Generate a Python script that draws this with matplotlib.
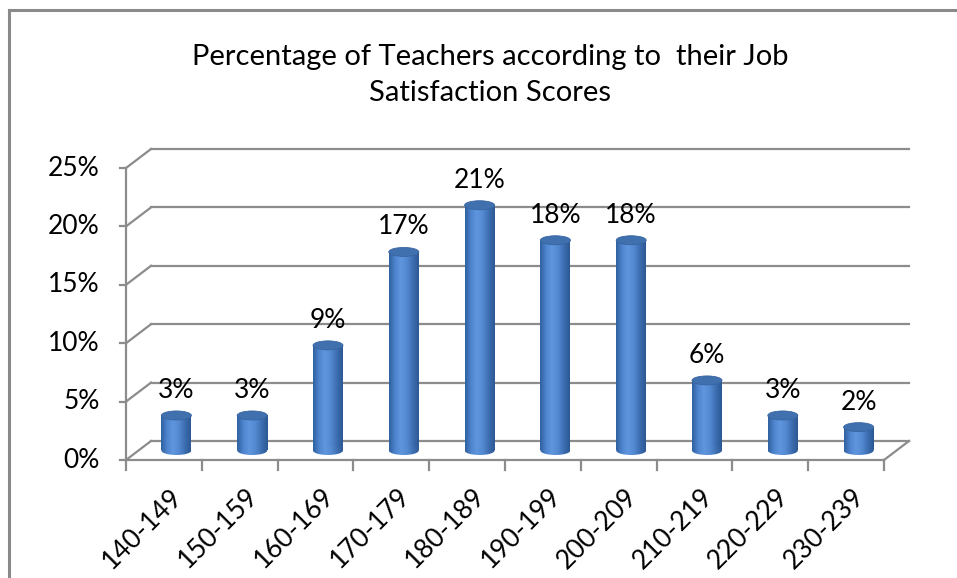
import matplotlib.pyplot as plt
import numpy as np
from matplotlib.patches import Ellipse, Rectangle
from matplotlib.colors import LinearSegmentedColormap

plt.rcParams['font.family'] = ['Lato', 'DejaVu Sans']

categories = ["140-149", "150-159", "160-169", "170-179", "180-189",
              "190-199", "200-209", "210-219", "220-229", "230-239"]
values = [3, 3, 9, 17, 21, 18, 18, 6, 3, 2]
yticks = [0, 5, 10, 15, 20, 25]
title = "Percentage of Teachers according to  their Job\nSatisfaction Scores"

W, H = 957, 578
fig = plt.figure(figsize=(W / 100, H / 100), dpi=100)

# axes: front plane x from -0.5 (px 126) to 9.5 (px 884), y 0 at px 460, 25% at px 168
px_cat = (884 - 126) / 10.0
px_pct = (460 - 168) / 25.0
dx = 25 / px_cat          # depth offset in category units
dy = 19 / px_pct          # depth offset in percent units
x0, x1 = -0.5, 9.5 + dx
y0, y1 = 0, 25 + dy
left = 126 / W
bottom = (H - 460) / H
ax = fig.add_axes([left, bottom, (x1 - x0) * px_cat / W, (y1 - y0) * px_pct / H])
ax.set_xlim(x0, x1)
ax.set_ylim(y0, y1)
ax.axis('off')

fs = 19
grid_c = '#8c8c8c'
lw = 1.6
# back wall gridlines and left wall diagonals
for t in yticks:
    ax.plot([-0.5 + dx, 9.5 + dx], [t + dy, t + dy], color=grid_c, lw=lw, clip_on=False, zorder=1)
    ax.plot([-0.5, -0.5 + dx], [t, t + dy], color=grid_c, lw=lw, clip_on=False, zorder=1)
    ax.plot([-0.5 - 0.08, -0.5], [t, t], color=grid_c, lw=lw, clip_on=False, zorder=1)
    ax.annotate(f"{t}%", (-0.5, t), xytext=(-19, 0), textcoords='offset points',
                ha='right', va='center', fontsize=fs, color='black')
# front left axis and floor
ax.plot([-0.5, -0.5], [0, 25], color=grid_c, lw=lw, clip_on=False, zorder=1)
ax.plot([-0.5, 9.5], [0, 0], color=grid_c, lw=lw, clip_on=False, zorder=1)
ax.plot([9.5, 9.5 + dx], [0, dy], color=grid_c, lw=lw, clip_on=False, zorder=1)
for k in range(len(categories) + 1):
    ax.plot([k - 0.5, k - 0.5], [0, -0.85], color=grid_c, lw=lw, clip_on=False, zorder=1)

# cylinders at mid depth
bw = 30 / px_cat
eh = 9 / px_pct
cmap = LinearSegmentedColormap.from_list('cyl', ['#30609f', '#4e85ce', '#6096de', '#5389d1', '#3d6eb1', '#2d5893'])
g = np.linspace(0, 1, 64).reshape(1, -1)
for i, v in enumerate(values):
    xc = i + dx / 2
    yb = dy / 2
    yt = v + dy / 2
    ext = (xc - bw / 2, xc + bw / 2, yb - eh / 2, yt)
    body = Rectangle((xc - bw / 2, yb), bw, v, facecolor='none', edgecolor='none')
    base = Ellipse((xc, yb), bw, eh, facecolor='none', edgecolor='none')
    ax.add_patch(body)
    ax.add_patch(base)
    for clip in (body, base):
        im = ax.imshow(g, extent=ext, cmap=cmap, aspect='auto', zorder=3, interpolation='bilinear')
        im.set_clip_path(clip)
    top = Ellipse((xc, yt), bw, eh, facecolor='#4070ae', edgecolor='#3865a1', lw=0.6, zorder=4)
    ax.add_patch(top)
    ax.annotate(f"{v}%", (xc, yt), xytext=(0, 9), textcoords='offset points',
                ha='center', va='bottom', fontsize=fs, color='black')

ax.set_xlim(x0, x1)
ax.set_ylim(y0, y1)

# category labels
for i, c in enumerate(categories):
    ax.annotate(c, (i, 0), xytext=(4, -17), textcoords='offset points', rotation=45,
                rotation_mode='anchor', ha='right', va='top', fontsize=fs, color='black')

fig.text(490 / W, 1 - 75 / H, title, ha='center', va='center', fontsize=21,
         linespacing=1.45, color='black')

# chart frame (partial, as in the reference)
fig.add_artist(plt.Line2D([8.5 / W, 8.5 / W], [0, 1 - 9.5 / H], color='#8a8a8a', lw=2.2,
                          transform=fig.transFigure))
fig.add_artist(plt.Line2D([8.5 / W, 1], [1 - 9.5 / H, 1 - 9.5 / H], color='#8a8a8a', lw=2.2,
                          transform=fig.transFigure))

fig.savefig('out.png', dpi=100)
